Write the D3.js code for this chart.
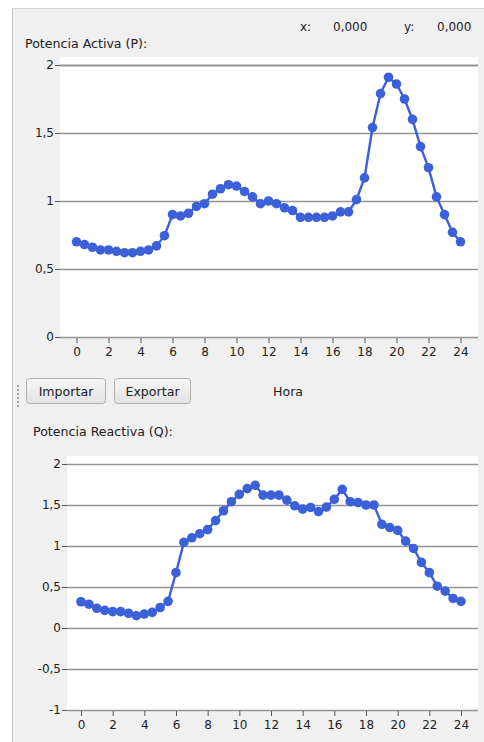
<!DOCTYPE html>
<html><head><meta charset="utf-8">
<script src="https://cdn.jsdelivr.net/npm/d3@7"></script>
<style>
html,body{margin:0;padding:0;background:#fff;}
svg{display:block;font-family:"DejaVu Sans",sans-serif;}
</style></head><body>
<svg id="c" width="484" height="742"></svg>
<script>
const hours = d3.range(0, 24.01, 0.5);
const xTicks = [0,2,4,6,8,10,12,14,16,18,20,22,24];
const pTicks = [0,0.5,1,1.5,2];
const qTicks = [-1,-0.5,0,0.5,1,1.5,2];
const pValues = [0.70,0.68,0.66,0.64,0.64,0.63,0.62,0.62,0.63,0.64,0.67,0.745,0.90,0.89,0.91,0.96,0.98,1.05,1.09,1.12,1.11,1.07,1.03,0.98,1.00,0.98,0.95,0.93,0.88,0.88,0.88,0.88,0.89,0.92,0.92,1.01,1.17,1.54,1.79,1.91,1.86,1.75,1.60,1.40,1.245,1.03,0.90,0.77,0.70];
const qValues = [0.32,0.29,0.24,0.215,0.20,0.20,0.18,0.15,0.17,0.19,0.25,0.325,0.675,1.045,1.10,1.15,1.20,1.31,1.43,1.54,1.63,1.70,1.74,1.62,1.62,1.62,1.56,1.49,1.45,1.47,1.42,1.475,1.57,1.69,1.54,1.53,1.50,1.50,1.265,1.225,1.19,1.06,0.97,0.80,0.675,0.51,0.45,0.36,0.325];
const titles = ["Potencia Activa (P):","Potencia Reactiva (Q):"];
const coordLabels = ["x:","0,000","y:","0,000"];
const buttons = ["Importar","Exportar"];
const xLabel = "Hora";

const svg = d3.select("#c");
const fmt = d => String(d).replace(".", ",");
const blue = "#3b60d8";
const FS = 12;

// panel background
svg.append("rect").attr("x",12).attr("y",8).attr("width",472).attr("height",734).attr("fill","#f0f0f0");
svg.append("line").attr("x1",12.5).attr("x2",12.5).attr("y1",8).attr("y2",742).attr("stroke","#c8c8c8");
svg.append("line").attr("x1",12).attr("x2",484).attr("y1",8.5).attr("y2",8.5).attr("stroke","#d8d8d8");

// header coords
const coordX = [300, 333, 404, 437];
coordLabels.forEach((t,i)=>svg.append("text").attr("x",coordX[i]).attr("y",31).attr("font-size",FS).attr("fill","#222").text(t));

function chart(cfg){
  const g = svg.append("g");
  g.append("text").attr("x",cfg.titleX).attr("y",cfg.titleY).attr("font-size",12.6).attr("fill","#222").text(cfg.title);
  const x = d3.scaleLinear().domain([0,24]).range([cfg.x0,cfg.x1]);
  const y = d3.scaleLinear().domain(cfg.yDomain).range([cfg.yBottom,cfg.yTop]);
  g.append("rect").attr("x",cfg.left).attr("y",cfg.plotTop).attr("width",cfg.right-cfg.left).attr("height",cfg.yBottom-cfg.plotTop).attr("fill","#fff");
  // gridlines
  g.append("g").selectAll("line").data(cfg.ticks).join("line")
    .attr("x1",cfg.left).attr("x2",cfg.right)
    .attr("y1",d=>Math.round(y(d))+0.5).attr("y2",d=>Math.round(y(d))+0.5)
    .attr("stroke","#959595").attr("stroke-width",d=>(cfg.thickTop && d===cfg.yDomain[1])?2.2:1.3);
  // y axis
  const ya = g.append("g").attr("transform",`translate(${cfg.left},0)`)
    .call(d3.axisLeft(y).tickValues(cfg.ticks).tickFormat(fmt).tickSize(5).tickPadding(1));
  ya.select(".domain").remove();
  ya.selectAll(".tick line").attr("stroke","#555");
  ya.selectAll("text").attr("font-size",FS).attr("fill","#222").attr("font-family","DejaVu Sans");
  // x axis
  const xa = g.append("g").attr("transform",`translate(0,${cfg.yBottom})`)
    .call(d3.axisBottom(x).tickValues(xTicks).tickFormat(d=>d).tickSize(5).tickPadding(5));
  xa.select(".domain").remove();
  xa.selectAll(".tick line").attr("stroke","#555").attr("transform","translate(0,1)");
  xa.selectAll("text").attr("font-size",FS).attr("fill","#222").attr("font-family","DejaVu Sans");
  // line
  const data = hours.map((h,i)=>[h,cfg.values[i]]);
  g.append("path").datum(data).attr("fill","none").attr("stroke",blue).attr("stroke-width",2.4)
    .attr("d",d3.line().x(d=>x(d[0])).y(d=>y(d[1])));
  g.append("g").selectAll("circle").data(data).join("circle")
    .attr("cx",d=>x(d[0])).attr("cy",d=>y(d[1])).attr("r",4.8).attr("fill",blue);
}

chart({title:titles[0],titleX:25,titleY:48,values:pValues,ticks:pTicks,yDomain:[0,2],thickTop:true,
  x0:76.5,x1:460.5,yBottom:337,yTop:65,left:60,right:478,plotTop:57});
chart({title:titles[1],titleX:33,titleY:436,values:qValues,ticks:qTicks,yDomain:[-1,2],thickTop:false,
  x0:81,x1:461,yBottom:710,yTop:464,left:67,right:478,plotTop:456});

// toolbar
const grad = svg.append("defs").append("linearGradient").attr("id","bg").attr("x1",0).attr("x2",0).attr("y1",0).attr("y2",1);
grad.append("stop").attr("offset","0").attr("stop-color","#f6f6f6");
grad.append("stop").attr("offset","1").attr("stop-color","#e2e2e2");
const bx = [[26,105],[114,190]];
buttons.forEach((b,i)=>{
  svg.append("rect").attr("x",bx[i][0]+0.5).attr("y",378.5).attr("width",bx[i][1]-bx[i][0]).attr("height",25)
    .attr("rx",3).attr("fill","url(#bg)").attr("stroke","#adadad");
  svg.append("text").attr("x",(bx[i][0]+bx[i][1])/2+0.5).attr("y",395.5).attr("text-anchor","middle")
    .attr("font-size",12.6).attr("fill","#222").text(b);
});
svg.append("text").attr("x",288).attr("y",396).attr("text-anchor","middle").attr("font-size",12.6).attr("fill","#222").text(xLabel);
svg.append("g").selectAll("rect").data(d3.range(6)).join("rect")
  .attr("x",17).attr("y",d=>385+d*4).attr("width",2).attr("height",2).attr("fill","#9a9a9a");
</script>
</body></html>
